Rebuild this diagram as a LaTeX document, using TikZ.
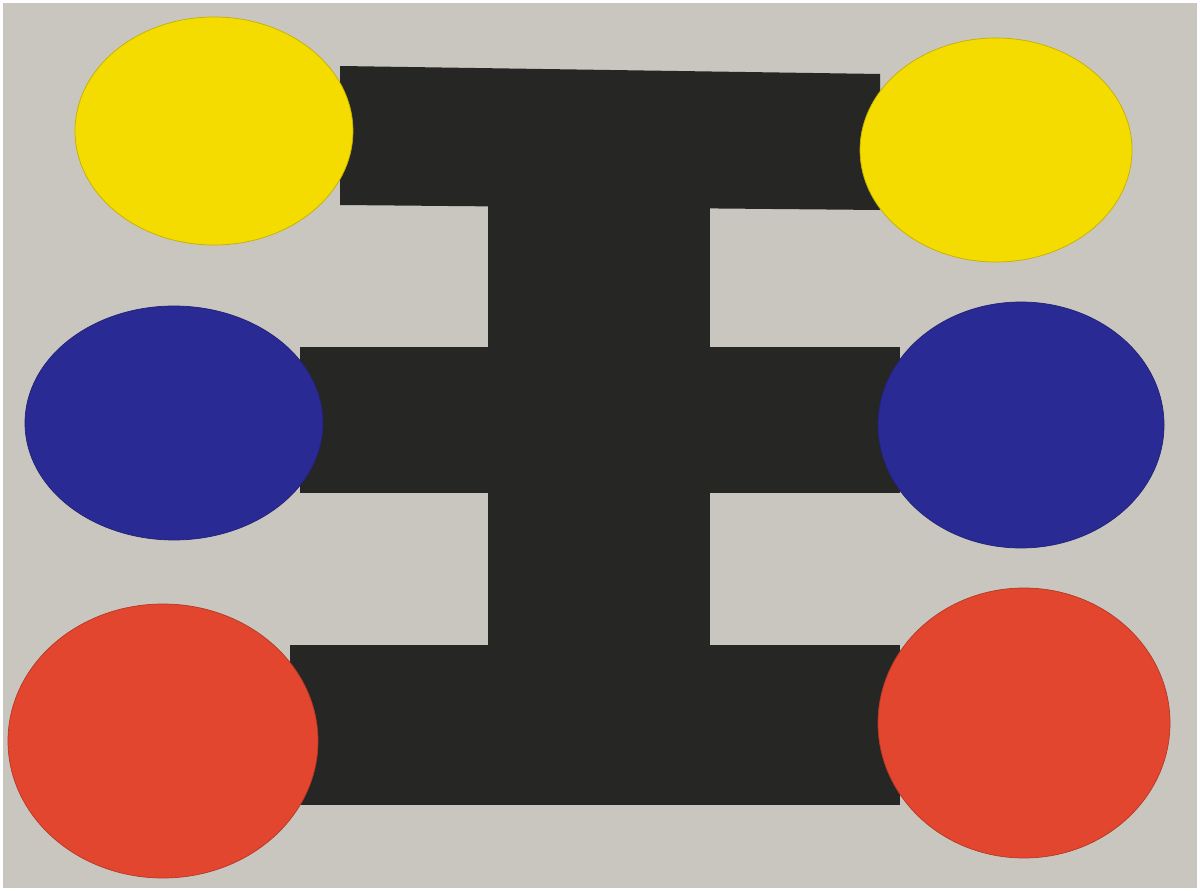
\documentclass[tikz,border=0pt]{standalone}
\usepackage{tikz}

\definecolor{paper}{RGB}{201,198,191}
\definecolor{felt}{RGB}{38,38,36}
\definecolor{discyellow}{RGB}{244,220,0}
\definecolor{discblue}{RGB}{42,42,148}
\definecolor{discred}{RGB}{226,70,46}

\begin{document}
\begin{tikzpicture}[
    x=0.02cm, y=-0.02cm,
    bar/.style={fill=felt},
    disc/.style={draw=#1!80!black, line width=0.4pt, fill=#1}
  ]
    % frame and table
    \fill[white] (0,0) rectangle (1200,891);
    \fill[paper] (3,3) rectangle (1197,888);
    \useasboundingbox (0,0) rectangle (1200,891);

    % black cut-out
    \fill[bar] (488,120) rectangle (710,805);
    \fill[bar] (340,66) -- (880,74) -- (880,210) -- (340,205) -- cycle;
    \fill[bar] (300,347) rectangle (900,493);
    \fill[bar] (290,645) rectangle (900,805);

    % discs
    \fill[disc=discyellow] (214,131) ellipse (139 and 114);
    \fill[disc=discyellow] (996,150) ellipse (136 and 112);
    \fill[disc=discblue] (174,423) ellipse (149 and 117);
    \fill[disc=discblue] (1021,425) ellipse (143 and 123);
    \fill[disc=discred] (163,741) ellipse (155 and 137);
    \fill[disc=discred] (1024,723) ellipse (146 and 135);
  \end{tikzpicture}
\end{document}
